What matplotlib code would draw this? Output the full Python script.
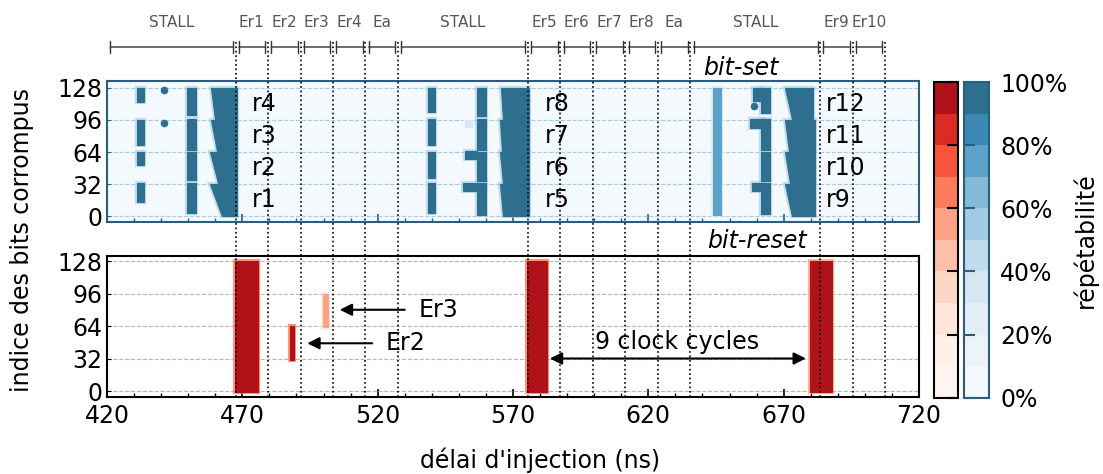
import numpy as np
import matplotlib
matplotlib.use('Agg')
import matplotlib.pyplot as plt
from matplotlib.colors import ListedColormap, BoundaryNorm
from matplotlib.cm import ScalarMappable

##### DATA ####
# clock-cycle boundaries (ns) and the phase names above them
cycle_bounds = [420, 467.5, 479.5, 491.5, 503.5, 515.5, 527.5, 575.5, 587.5,
                599.5, 611.5, 623.5, 635.5, 683.5, 695.5, 707.5]
phase_labels = ['STALL', 'Er1', 'Er2', 'Er3', 'Er4', 'Ea', 'STALL', 'Er5', 'Er6',
                'Er7', 'Er8', 'Ea', 'STALL', 'Er9', 'Er10']

# bit-set clusters : left edge at top / bottom, right edge, bit range, repeatability (%)
set_left_top = [431, 431, 431, 431, 449.5, 449.5, 449.5, 449.5, 458.6, 458.6, 458.0, 458.0,
                538.7, 538.7, 538.7, 538.7, 556.8, 556.8, 556.8, 556.8, 552.3, 551.7, 552.3,
                565.5, 565.2, 565.2, 565.2,
                644.0, 644.0, 644.0, 644.0, 661.8, 661.8, 661.8, 661.8, 658.5, 657.7, 658.3,
                670.5, 670.5, 670.5, 670.5]
set_left_bot = [431, 431, 431, 431, 449.5, 449.5, 449.5, 449.5, 459.9, 460.5, 461.1, 462.4,
                538.7, 538.7, 538.7, 538.7, 556.8, 556.8, 556.8, 556.8, 552.3, 551.7, 552.3,
                566.4, 565.8, 566.4, 566.4,
                644.0, 644.0, 644.0, 644.0, 661.8, 661.8, 661.8, 661.8, 658.5, 657.7, 658.3,
                673.0, 671.8, 672.4, 673.0]
set_right = [433.5, 433.5, 433.5, 433.5, 453, 453, 453, 453, 468, 468, 468, 468,
             541.2, 541.2, 541.2, 541.2, 560, 560, 560, 560, 556.8, 557.8, 554.8,
             576, 576, 576, 576,
             646.7, 646.7, 646.7, 646.7, 665, 665, 665, 665, 662, 662.6, 662.6,
             681, 681.5, 681.5, 681.5]
set_bit_lo = [114, 71, 51, 14, 101, 66, 36, 3, 97, 65, 33, 0,
              104, 71, 38, 3, 100, 66, 35, 1, 57.5, 25, 89,
              97, 65, 33, 0,
              97, 65, 33, 1, 103, 66, 35, 2, 115, 88, 25,
              97, 65, 33, 0]
set_bit_hi = [128, 96, 64, 33, 128, 97, 64, 33, 128, 96, 64, 32,
              128, 97, 64, 33, 128, 97, 64, 33, 64.5, 33, 95.5,
              128, 96, 64, 32,
              128, 96, 64, 32, 128, 97, 64, 33, 128, 97, 33,
              128, 96, 64, 32]
set_rep = [95, 95, 95, 95, 95, 95, 95, 95, 95, 95, 95, 95,
           95, 95, 95, 95, 95, 95, 95, 95, 95, 95, 35,
           95, 95, 95, 95,
           75, 75, 75, 75, 95, 95, 95, 95, 95, 95, 95,
           95, 95, 95, 95]
set_dot_x = [440.9, 441.2, 659.0]
set_dot_y = [125.5, 92.5, 110]

# bit-reset clusters
reset_left = [467.3, 487.6, 499.7, 575.0, 679.7]
reset_right = [475.9, 489.2, 501.5, 582.4, 687.7]
reset_bit_lo = [-1, 31, 63, -1, -1]
reset_bit_hi = [128, 64, 96, 128, 128]
reset_rep = [95, 95, 55, 95, 90]

# register labels
reg_names = ['r%d' % i for i in range(1, 13)]
reg_x = [473.5] * 4 + [581.8] * 4 + [685.6] * 4
reg_y = [16, 48, 80, 112] * 3

blues_hex = ['#f2f8fc', '#ecf3f9', '#e3eef7', '#d6e6f2', '#c0dcec',
             '#a0cbe2', '#85b9d8', '#5ca2c9', '#3b89b4', '#2e6e8f']
reds_hex = ['#fff5f0', '#fff0e9', '#fee6da', '#fdd7c6', '#fdbfa5',
            '#fca184', '#fb7d5e', '#f6553c', '#dc2a25', '#af1218']

bits_ticks = [0, 32, 64, 96, 128]
levels = np.linspace(0, 100, 11)
blues = ListedColormap(blues_hex)
reds = ListedColormap(reds_hex)
norm = BoundaryNorm(levels, 10)

FS = 17
blue_edge = '#2b5d7c'
plt.rcParams['font.family'] = 'DejaVu Sans'

fig = plt.figure(figsize=(11.03, 4.74), dpi=100)
ax_set = fig.add_axes([0.097, 0.5323, 0.7362, 0.2968])
ax_rst = fig.add_axes([0.097, 0.1618, 0.7362, 0.2987])

def style_axis(ax, edge, gridc, ylim):
    ax.set_xlim(420, 720)
    ax.set_ylim(*ylim)
    ax.set_yticks(bits_ticks)
    ax.set_xticks(np.arange(420, 721, 50))
    ax.set_xticks(np.arange(420, 721, 10), minor=True)
    ax.tick_params(axis='x', which='major', direction='in', length=6, width=1.2, color=edge,
                   labelsize=FS, pad=5)
    ax.tick_params(axis='x', which='minor', direction='in', length=3, width=1.0, color=edge)
    ax.tick_params(axis='y', direction='in', length=3, color=edge, labelsize=FS)
    for s in ax.spines.values():
        s.set_color(edge)
        s.set_linewidth(1.5)
    ax.grid(axis='y', ls='--', color=gridc, lw=0.8)
    ax.set_axisbelow(True)

style_axis(ax_set, blue_edge, '#a8cde2', (-5.4, 134.7))
style_axis(ax_rst, 'k', '#b5b5b5', (-6.2, 133.2))
ax_set.set_facecolor('#f4f9fd')
ax_set.tick_params(axis='x', labelbottom=False)

##### BIT-SET CLUSTERS ####
for lt, lb, r, lo, hi, rep in zip(set_left_top, set_left_bot, set_right, set_bit_lo, set_bit_hi, set_rep):
    c = blues(norm(rep))
    fr = blues(norm(rep - 40))
    xs = [lb, r, r, lt]
    ys = [lo, lo, hi, hi]
    ax_set.fill(xs, ys, facecolor=fr, edgecolor=fr, lw=3, alpha=0.6, zorder=2)
    ax_set.fill(xs, ys, facecolor=c, edgecolor=c, lw=0.8, zorder=3)
ax_set.scatter(set_dot_x, set_dot_y, s=20, color=blues(norm(95)), zorder=3)

##### BIT-RESET CLUSTERS ####
for l, r, lo, hi, rep in zip(reset_left, reset_right, reset_bit_lo, reset_bit_hi, reset_rep):
    c = reds(norm(rep))
    fr = reds(norm(rep - 35))
    xs = [l, r, r, l]
    ys = [lo, lo, hi, hi]
    ax_rst.fill(xs, ys, facecolor=fr, edgecolor=fr, lw=3, alpha=0.8, zorder=2)
    ax_rst.fill(xs, ys, facecolor=c, edgecolor=c, lw=0.8, zorder=3)

for name, x, y in zip(reg_names, reg_x, reg_y):
    ax_set.text(x, y, name, fontsize=FS, va='center', ha='left', zorder=4)

# arrows in bit-reset panel
ax_rst.annotate('', xy=(506, 80), xytext=(530, 80),
                arrowprops=dict(arrowstyle='-|>', color='k', lw=1.5, mutation_scale=18, shrinkA=0, shrinkB=0))
ax_rst.text(535, 80, 'Er3', fontsize=FS, va='center')
ax_rst.annotate('', xy=(494, 47), xytext=(518, 47),
                arrowprops=dict(arrowstyle='-|>', color='k', lw=1.5, mutation_scale=18, shrinkA=0, shrinkB=0))
ax_rst.text(523, 47, 'Er2', fontsize=FS, va='center')
ax_rst.annotate('', xy=(583.6, 32), xytext=(678.2, 32),
                arrowprops=dict(arrowstyle='<|-|>', color='k', lw=1.5, mutation_scale=18, shrinkA=0, shrinkB=0))
ax_rst.text(630.5, 48, '9 clock cycles', fontsize=FS, ha='center', va='center')

##### OVERLAY : cycle lines, brackets, phase names ####
ax_ov = fig.add_axes([0.097, 0.1618, 0.7362, 0.8382])
ax_ov.set_xlim(420, 720)
ax_ov.set_ylim(397.3, 0)
ax_ov.axis('off')
ax_ov.patch.set_alpha(0)
ax_ov.vlines(cycle_bounds[1:], 42, 397.3, colors='k', linestyles=':', lw=1.2)
for i, lab in enumerate(phase_labels):
    a = cycle_bounds[i] + 1.2
    b = cycle_bounds[i + 1] - 1.0
    ax_ov.annotate('', xy=(a, 47), xytext=(b, 47),
                   arrowprops=dict(arrowstyle='|-|,widthA=0.45,widthB=0.45,angleA=0,angleB=0',
                                   color='#333333', lw=1.0, shrinkA=0, shrinkB=0))
    ax_ov.text((cycle_bounds[i] + cycle_bounds[i + 1]) / 2, 22, lab, ha='center', va='center',
               fontsize=11, color='#555555')
ax_ov.text(654, 68, 'bit-set', fontsize=FS, style='italic', ha='center', va='center')
ax_ov.text(660, 241, 'bit-reset', fontsize=FS, style='italic', ha='center', va='center')

##### COLORBARS ####
cax_r = fig.add_axes([934 / 1103, 0.161, 24 / 1103, 0.666])
cax_b = fig.add_axes([964 / 1103, 0.161, 25 / 1103, 0.666])
cb_r = fig.colorbar(ScalarMappable(norm=norm, cmap=reds), cax=cax_r, ticks=levels[::2])
cb_b = fig.colorbar(ScalarMappable(norm=norm, cmap=blues), cax=cax_b, ticks=levels[::2])
for cb, ec in [(cb_r, 'k'), (cb_b, blue_edge)]:
    cb.minorticks_off()
    cb.outline.set_edgecolor(ec)
    cb.outline.set_linewidth(1.5)
cax_r.tick_params(axis='y', which='both', direction='in', left=False, right=True, labelright=False,
                  length=8, width=1.5, color='k')
cax_b.tick_params(axis='y', which='both', direction='in', left=True, right=False, labelleft=False,
                  labelright=True, length=8, width=1.5, color=blue_edge, labelsize=FS, pad=8)
cax_b.set_yticklabels(['%d%%' % v for v in levels[::2]])

fig.text(1085 / 1103, 1 - 240 / 474, 'répétabilité', rotation=90, ha='center', va='center', fontsize=FS)
fig.text(22 / 1103, 1 - 240 / 474, 'indice des bits corrompus', rotation=90, ha='center', va='center', fontsize=FS)
fig.text(540 / 1103, 1 - 460 / 474, "délai d'injection (ns)", ha='center', va='center', fontsize=FS)

fig.savefig('out.png', dpi=100)
